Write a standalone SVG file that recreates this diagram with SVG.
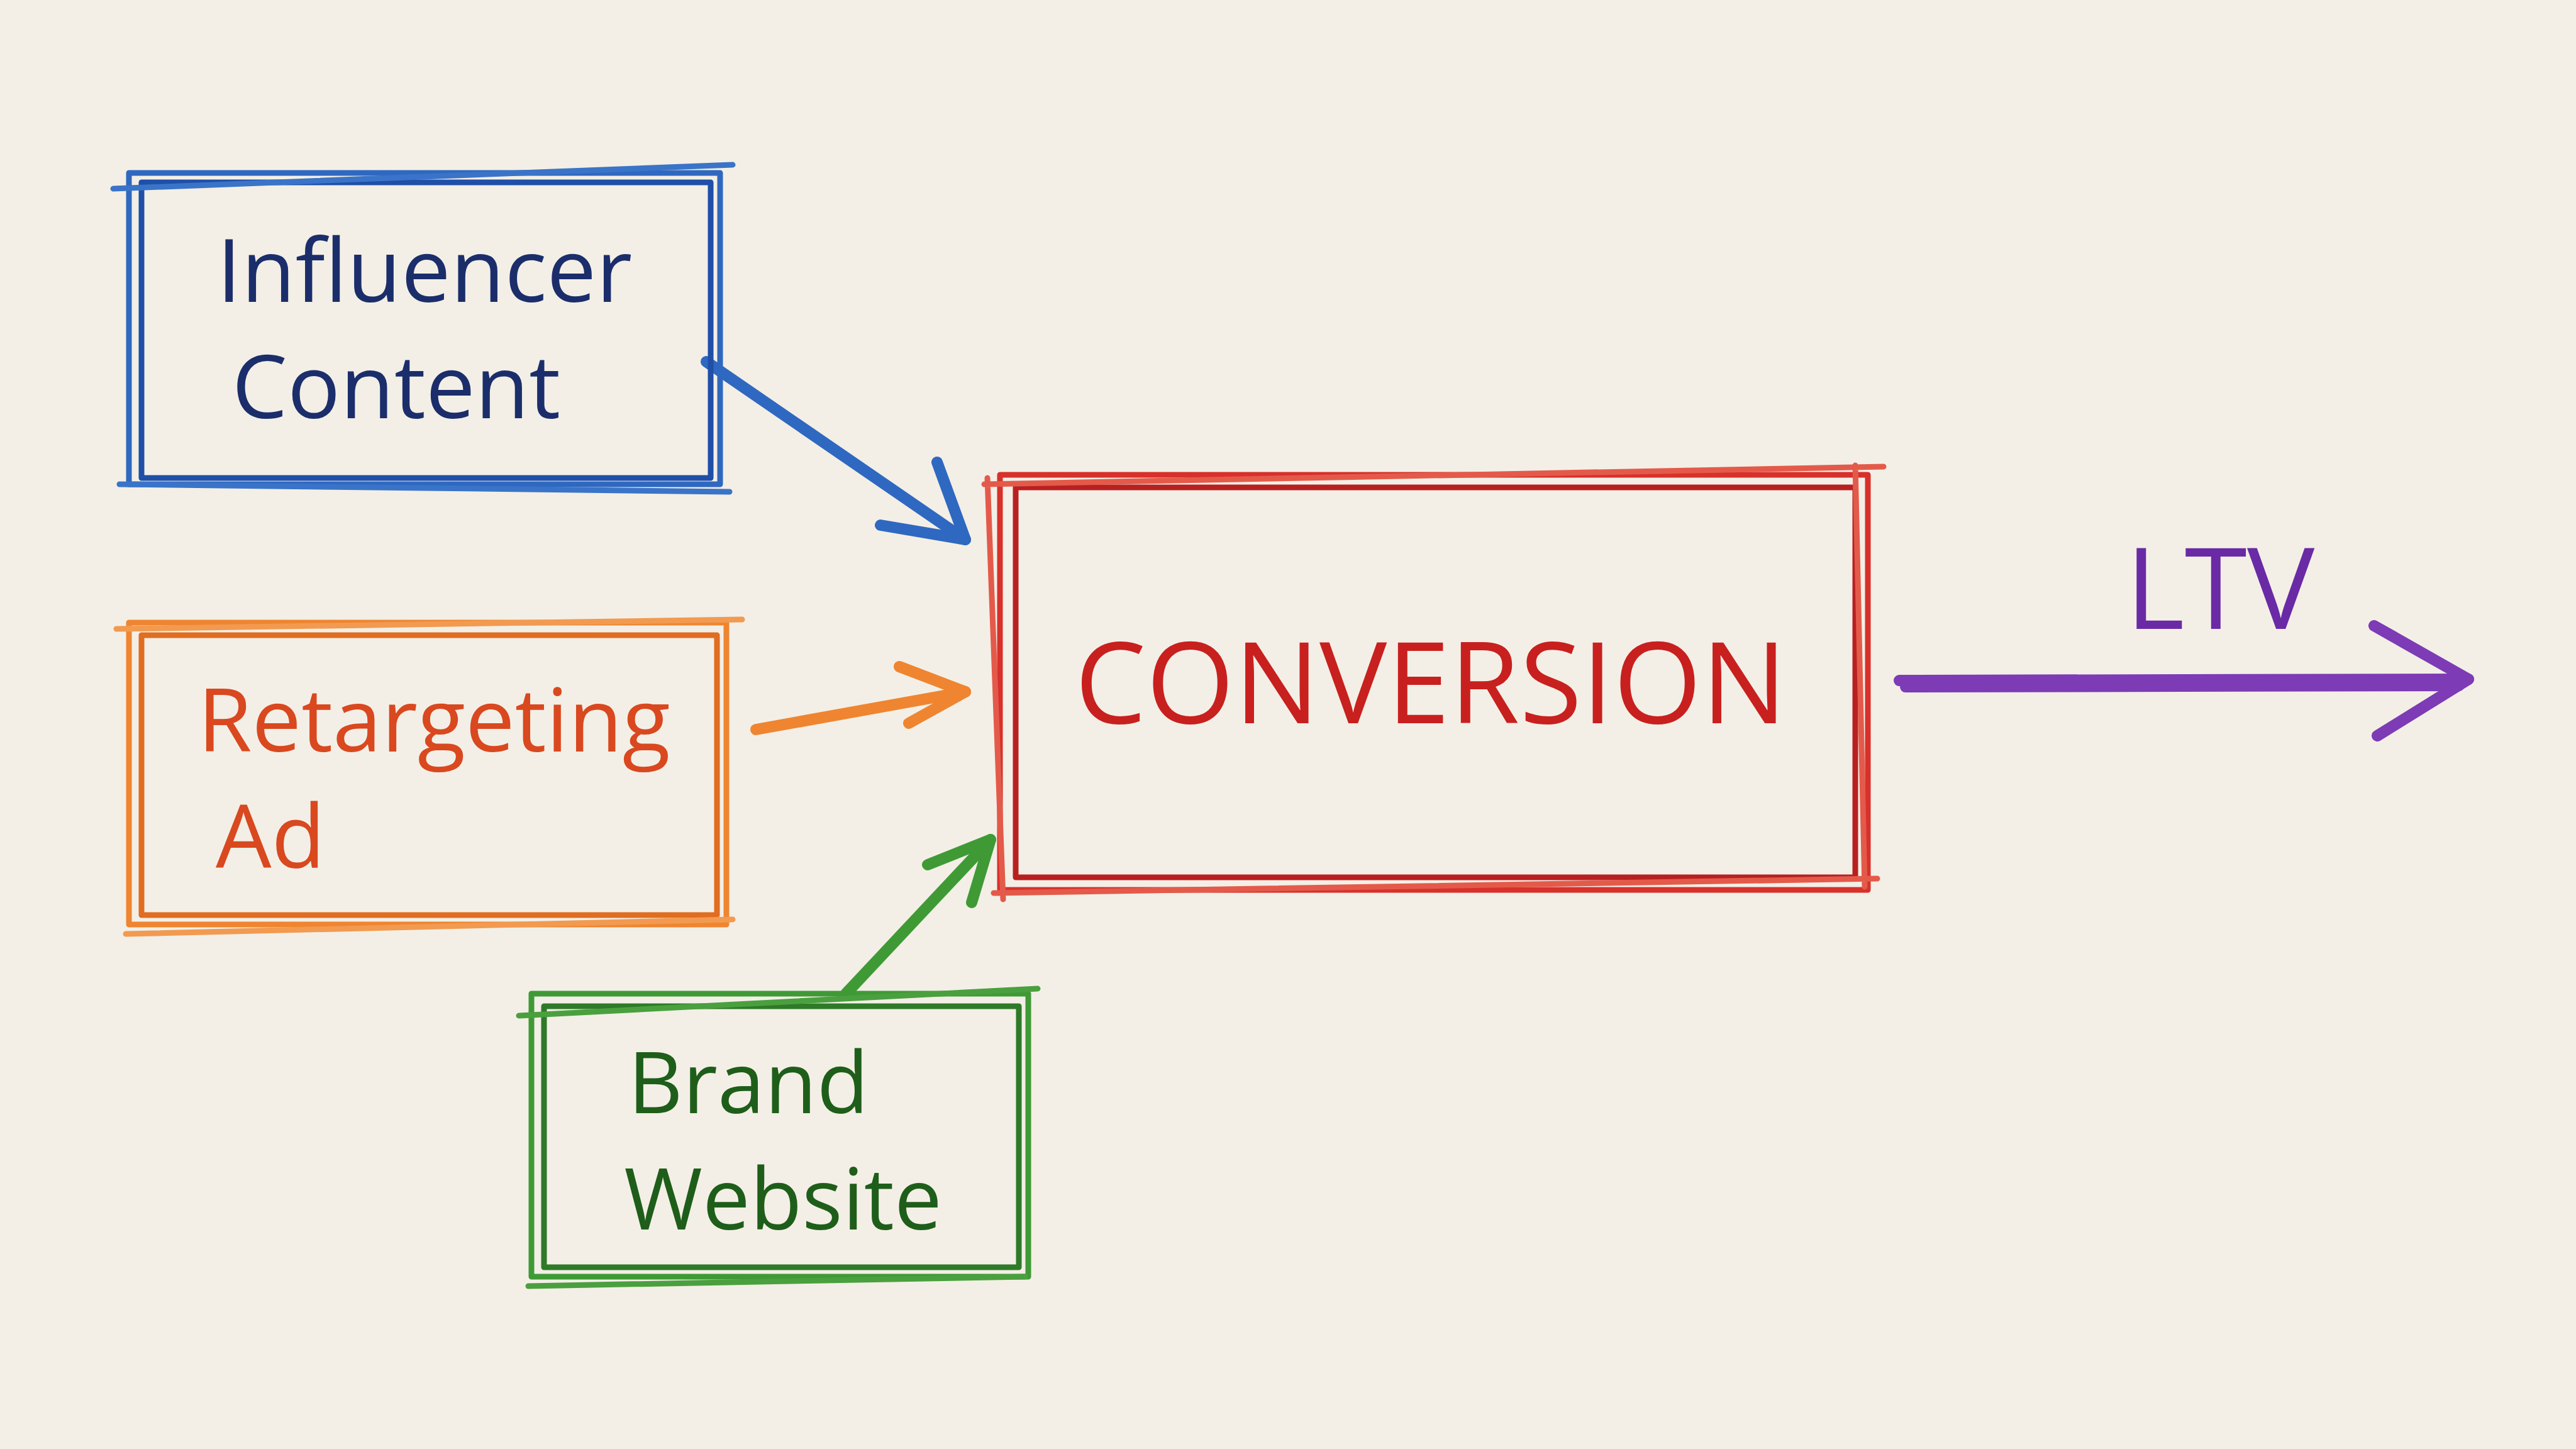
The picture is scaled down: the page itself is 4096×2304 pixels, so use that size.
<svg xmlns="http://www.w3.org/2000/svg" width="4096" height="2304" viewBox="0 0 4096 2304">
<style>
.t{font-family:"Open Sans","Liberation Sans",sans-serif;font-weight:500;text-anchor:middle}
.b{fill:none;stroke-width:9;stroke-linecap:round;stroke-linejoin:round}
.c{fill:none;stroke-width:18;stroke-linecap:round;stroke-linejoin:round}
</style>
<rect width="4096" height="2304" fill="#f3efe6"/>
<g id="connectors">
<g stroke="#2f68c0" class="c"><path d="M1123 575 L1535 858"/><path d="M1535 858 L1400 835 M1535 858 L1490 735"/></g>
<g stroke="#ef8530" class="c"><path d="M1202 1160 L1535 1100"/><path d="M1535 1100 L1430 1060 M1535 1100 L1445 1150"/></g>
<g stroke="#3f9a35" class="c"><path d="M1345 1580 L1575 1335"/><path d="M1575 1335 L1475 1375 M1575 1335 L1545 1435"/></g>
<g stroke="#7d3bb5" class="c"><path d="M3020 1082 L3925 1080"/><path d="M3030 1092 L3910 1090"/><path d="M3925 1080 L3775 995 M3925 1080 L3780 1170"/></g>
<text class="t" x="3530" y="1000" font-size="180" fill="#6a2aa5">LTV</text>
</g>
<g id="influencer">
<rect class="b" x="205" y="275" width="940" height="495" stroke="#2f68c0"/>
<rect class="b" x="225" y="290" width="905" height="470" stroke="#1f4fa8"/>
<path class="b" d="M180 300 L1165 262 M190 770 L1160 782" stroke="#3a74c8"/>
<text class="t" x="675" y="480" font-size="140" fill="#1b2e6b">Influencer</text>
<text class="t" x="630" y="665" font-size="140" fill="#1b2e6b">Content</text>
</g>
<g id="retargeting">
<rect class="b" x="205" y="990" width="950" height="480" stroke="#ef8530"/>
<rect class="b" x="225" y="1010" width="915" height="445" stroke="#e06d20"/>
<path class="b" d="M185 1000 L1180 985 M200 1485 L1165 1462" stroke="#f29a50"/>
<text class="t" x="690" y="1195" font-size="140" fill="#d9481f">Retargeting</text>
<text class="t" x="430" y="1380" font-size="140" fill="#d9481f">Ad</text>
</g>
<g id="brand">
<rect class="b" x="845" y="1580" width="790" height="450" stroke="#3f9a35"/>
<rect class="b" x="865" y="1600" width="755" height="415" stroke="#2e7a28"/>
<path class="b" d="M825 1615 L1650 1572 M840 2045 L1630 2030" stroke="#4aa03e"/>
<text class="t" x="1190" y="1770" font-size="135" fill="#1e5e1a">Brand</text>
<text class="t" x="1245" y="1955" font-size="135" fill="#1e5e1a">Website</text>
</g>
<g id="conversion">
<rect class="b" x="1590" y="755" width="1380" height="660" stroke="#d8302a"/>
<rect class="b" x="1615" y="775" width="1335" height="620" stroke="#b82020"/>
<path class="b" d="M1565 770 L2995 742 M1580 1420 L2985 1397 M1570 760 L1595 1430 M2950 740 L2965 1410" stroke="#e45a4a"/>
<text class="t" x="2275" y="1150" font-size="180" font-weight="400" fill="#c8201e">CONVERSION</text>
</g>
</svg>
